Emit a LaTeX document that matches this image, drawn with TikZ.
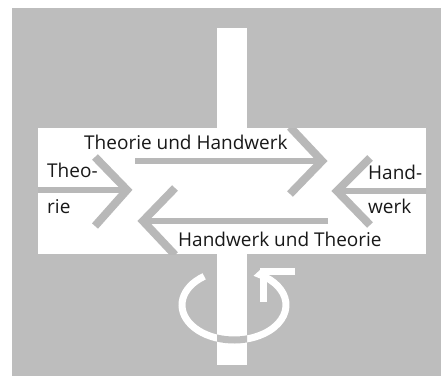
\documentclass[tikz,border=0pt]{standalone}
\usepackage{fontspec}
\setmainfont{Open Sans}
\usepackage{xcolor}
\usepackage{tikz}
\usetikzlibrary{calc,positioning}

\definecolor{bggray}{gray}{0.74}
\definecolor{arrgray}{gray}{0.72}
\definecolor{inkgray}{gray}{0.1}

\begin{document}
\begin{tikzpicture}[
    x=1pt, y=1pt,
    lbl/.style={font=\fontsize{19}{21}\selectfont, inner sep=0pt, text=inkgray},
    shaft/.style={draw=arrgray, line width=6pt},
    chev/.style={draw=arrgray, line width=8pt, miter limit=10},
    turn/.style={draw=white, line width=7pt}
  ]
    \useasboundingbox (0,0) rectangle (441,376);
    \fill[bggray] (12,0) rectangle (441,368);

    % rotation mark
    \coordinate (turnc) at (234,71);
    \coordinate (turnhead) at (263.5,104.5);
    \draw[turn] (turnc) ++(125:52 and 35) arc[start angle=125, end angle=420, x radius=52, y radius=35] -- (turnhead);
    \draw[turn, line cap=butt] (turnhead) ++(31.5,0) -- (turnhead) -- ++(0,-30.5);

    % axis and band
    \fill[white] (217,11) rectangle (247,348);
    \fill[white] (38,122) rectangle (426,248);
    \begin{scope}
      \clip (217,11) rectangle (247,348);
      \draw[turn, draw=bggray] (turnc) ++(125:52 and 35) arc[start angle=125, end angle=420, x radius=52, y radius=35];
    \end{scope}

    \coordinate (thtail) at (135,215);
    \coordinate (thtip)  at (322,215);
    \coordinate (httail) at (328,155);
    \coordinate (httip)  at (143,155);
    \coordinate (theotail) at (30,186);
    \coordinate (theotip)  at (127,186);
    \coordinate (handtail) at (432,185);
    \coordinate (handtip)  at (337,185);

    \begin{scope}
      \clip (38,122) rectangle (426,248);
      \draw[shaft] (thtail) -- (thtip);
      \draw[chev] ($(thtip)+(-32,34)$) -- (thtip) -- +(-32,-33);
      \draw[shaft] (httail) -- (httip);
      \draw[chev] ($(httip)+(32,33)$) -- (httip) -- +(32,-34);
      \draw[shaft] (theotail) -- (theotip);
      \draw[chev] ($(theotip)+(-32,33)$) -- (theotip) -- +(-32,-36);
      \draw[shaft] (handtail) -- (handtip);
      \draw[chev] ($(handtip)+(33,33)$) -- (handtip) -- +(33,-34);
    \end{scope}

    \node[lbl, anchor=base west] (thlabel) at (84,227) {Theorie und Handwerk};
    \node[lbl, anchor=base west] (theo) at (47,199) {Theo-};
    \node[lbl, anchor=base west] (rie)  at (47,163) {rie};
    \node[lbl, anchor=base west] (hand) at (368,197) {Hand-};
    \node[lbl, anchor=base west] (werk) at (368,163) {werk};
    \node[lbl, anchor=base west] (htlabel) at (178,130) {Handwerk und Theorie};
\end{tikzpicture}
\end{document}
